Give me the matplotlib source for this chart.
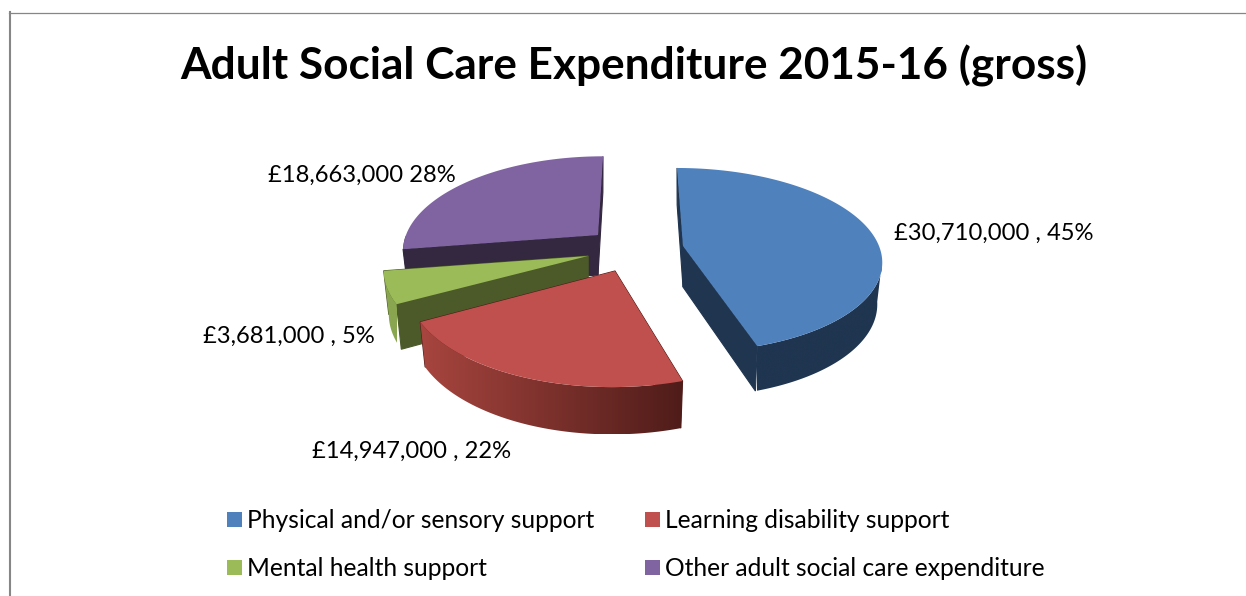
import numpy as np
import matplotlib
matplotlib.use('Agg')
import matplotlib.pyplot as plt
from matplotlib.patches import Polygon, Rectangle
from matplotlib.colors import LinearSegmentedColormap

# -------------------------
# DATA
# -------------------------
title = 'Adult Social Care Expenditure 2015-16 (gross)'
categories = ['Physical and/or sensory support', 'Learning disability support',
              'Mental health support', 'Other adult social care expenditure']
values = [30710000, 14947000, 3681000, 18663000]
value_labels = ['£30,710,000 , 45%', '£14,947,000 , 22%', '£3,681,000 , 5%', '£18,663,000 28%']

# -------------------------
# STYLE / LAYOUT (pixels of the 1246x596 picture)
# -------------------------
top_colors = ['#4f81bd', '#c0504d', '#9bbb59', '#8064a2']
cut_colors = ['#1f3550', '#4f1c19', '#4b5a28', '#33283f']
wall_left = ['#1f3550', '#a8453f', '#8aa650', '#33283f']
wall_right = ['#1f3550', '#4f1c19', '#8aa650', '#33283f']
# centre x, centre y, rx, ry, perspective, lean, depth for each slice
geometry = [(683, 246, 196, 89.8, 0.151, -6, 41),
            (615, 271, 206, 101, 0.13, 3, 43),
            (588, 256, 202, 94.5, 0.15, 0, 43),
            (598, 235, 192, 90.5, 0.15, 5, 40)]
label_pos = [(894, 233), (312, 451), (203, 336), (268, 175)]
legend_pos = [(227, 520), (645, 520), (227, 568), (645, 568)]
PULL = 0.975

plt.rcParams['font.family'] = ['Lato', 'DejaVu Sans']
fig = plt.figure(figsize=(12.46, 5.96), dpi=100)
ax = fig.add_axes([0, 0, 1, 1])


def project(angle, g):
    # angle in degrees clockwise from 12 o'clock, tilted disc with perspective
    cx, cy, rx, ry, p, lean, depth = g
    t = np.radians(angle)
    X, Y = np.sin(t), np.cos(t)
    w = 1 + p * Y
    return cx + rx * X / w + lean * Y, cy - ry * Y / w, depth * (1 - 0.1 * Y)


# -------------------------
# FRAME AND TITLE
# -------------------------
ax.plot([10, 10], [596, 12], color='#868686', lw=1.5)
ax.plot([9, 1246], [12.7, 12.7], color='#868686', lw=0.9)
ax.text(634, 66, title, fontsize=31.8, fontweight='bold', ha='center', va='center', color='black')

# -------------------------
# SLICES
# -------------------------
fractions = np.array(values) / sum(values)
edges = np.concatenate([[0], np.cumsum(fractions) * 360])

# back to front
for z, i in enumerate([3, 2, 1, 0]):
    a0, a1 = edges[i], edges[i + 1]
    g = geometry[i]
    c = g[:2]
    angles = np.linspace(a0, a1, 200)
    xs, ys, ds = project(angles, g)

    # two cut faces, the edge closes the seam against the wall
    for a in [a0, a1]:
        px, py, pd = project(a, g)
        low = c[0] + (px - c[0]) * PULL
        ax.add_patch(Polygon([c, (px, py), (low, py + pd), (c[0], c[1] + g[6])],
                             closed=True, fc=cut_colors[i], ec=cut_colors[i], lw=0.8,
                             zorder=z * 2 + 2))

    # outer wall, from the point where the rim turns back, bottom edge pulled in a little
    front = (angles >= 90 + np.degrees(np.arcsin(g[4]))) & (angles <= 270)
    if front.any():
        wx, wy, wd = xs[front], ys[front], ds[front]
        low_x = c[0] + (wx - c[0]) * PULL
        wall = Polygon(np.vstack([np.column_stack([wx, wy]),
                                  np.column_stack([low_x, wy + wd])[::-1]]),
                       closed=True, transform=ax.transData, fc='none', ec='none')
        ax.add_patch(wall)
        cmap = LinearSegmentedColormap.from_list('wall', [wall_left[i], wall_right[i]])
        im = ax.imshow(np.linspace(0, 1, 256).reshape(1, -1), cmap=cmap, aspect='auto',
                       extent=(wx.min(), wx.max(), (wy + wd).max(), wy.min()), zorder=z * 2 + 2.2)
        im.set_clip_path(wall)

    # top
    pts = np.vstack([[c], np.column_stack([xs, ys])])
    ax.add_patch(Polygon(pts, closed=True, fc=top_colors[i], ec='none', zorder=z * 2 + 3))

ax.set_xlim(0, 1246)
ax.set_ylim(596, 0)
ax.axis('off')

# -------------------------
# LABELS AND LEGEND
# -------------------------
for lab, (x, y) in zip(value_labels, label_pos):
    ax.text(x, y, lab, fontsize=17.1, ha='left', va='center', color='black', zorder=20)

for cat, col, (x, y) in zip(categories, top_colors, legend_pos):
    ax.add_patch(Rectangle((x, y - 8), 15, 15, fc=col, ec='none'))
    ax.text(x + 20, y + 1, cat, fontsize=17.7, ha='left', va='center', color='black')

fig.savefig('out.png', dpi=100)
